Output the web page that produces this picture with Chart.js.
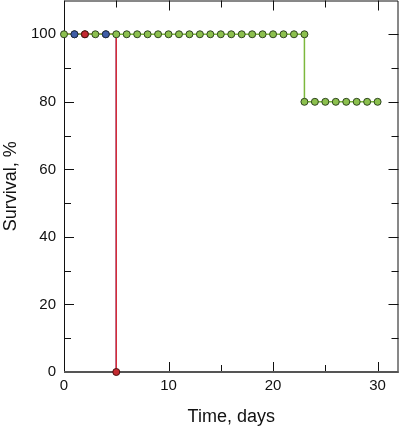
<!DOCTYPE html>
<html>
<head>
<meta charset="utf-8">
<script src="https://cdn.jsdelivr.net/npm/chart.js@4/dist/chart.umd.min.js"></script>
<style>
  html, body { margin: 0; padding: 0; background: #fff; }
  #wrap { width: 400px; height: 430px; overflow: hidden; position: relative; }
  #myChart { position: absolute; left: 0; top: -4px; }
</style>
</head>
<body>
<div id="wrap"><canvas id="myChart" width="403" height="434"></canvas></div>
<script>
// survival data (days, %)
const greenDays = [0,1,2,3,4,5,6,7,8,9,10,11,12,13,14,15,16,17,18,19,20,21,22,23,23,24,25,26,27,28,29,30];
const greenSurvival = [100,100,100,100,100,100,100,100,100,100,100,100,100,100,100,100,100,100,100,100,100,100,100,100,80,80,80,80,80,80,80,80];
const blueDays = [0,5,5];
const blueSurvival = [100,100,0];
const redDays = [0,5,5];
const redSurvival = [100,100,0];
// markers shown on top for the blue / red groups
const blueMarkDays = [1,4];
const blueMarkSurvival = [100,100];
const redMarkDays = [2,5];
const redMarkSurvival = [100,0];

const xTicks = [0,10,20,30];
const xMinor = [5,15,25];
const yTicks = [0,20,40,60,80,100];
const yMinor = [10,30,50,70,90];

const pts = (xs, ys) => xs.map((x, i) => ({x, y: ys[i]}));

const frame = {
  id: 'frame',
  beforeDatasetsDraw(chart) {
    const {ctx, chartArea: a, scales: {x, y}} = chart;
    ctx.save();
    ctx.strokeStyle = '#111';
    ctx.lineWidth = 1;
    ctx.beginPath();
    ctx.moveTo(a.left + 0.5, a.bottom);
    ctx.lineTo(a.left + 0.5, a.top + 0.5);
    ctx.lineTo(a.right - 0.5, a.top + 0.5);
    ctx.lineTo(a.right - 0.5, a.bottom);
    // ticks
    const tick = (v, len) => {
      const px = Math.round(x.getPixelForValue(v)) + 0.5;
      ctx.moveTo(px, a.bottom); ctx.lineTo(px, a.bottom - len);
      ctx.moveTo(px, a.top); ctx.lineTo(px, a.top + len);
    };
    const ytick = (v, len) => {
      const py = Math.round(y.getPixelForValue(v)) + 0.5;
      ctx.moveTo(a.left, py); ctx.lineTo(a.left + len, py);
      ctx.moveTo(a.right, py); ctx.lineTo(a.right - len, py);
    };
    xTicks.forEach(v => tick(v, 10));
    xMinor.forEach(v => tick(v, 7));
    yTicks.forEach(v => ytick(v, 10));
    yMinor.forEach(v => ytick(v, 7));
    ctx.stroke();
    ctx.strokeStyle = '#555';
    ctx.lineWidth = 2;
    ctx.beginPath();
    ctx.moveTo(a.left, a.bottom);
    ctx.lineTo(a.right, a.bottom);
    ctx.stroke();
    ctx.restore();
  }
};

const lineSet = (data, color, order) => ({
  type: 'line', data, borderColor: color, borderWidth: 1.5,
  pointRadius: 0, pointHoverRadius: 0, fill: false, tension: 0, order
});
const markSet = (data, fill, edge, order) => ({
  type: 'scatter', data, showLine: false, pointRadius: 3.5, pointHoverRadius: 0, clip: false,
  pointBackgroundColor: fill, pointBorderColor: edge, pointBorderWidth: 1, order
});

new Chart(document.getElementById('myChart'), {
  type: 'scatter',
  data: {
    datasets: [
      markSet(pts(redMarkDays, redMarkSurvival), '#c42a30', '#4a1010', 1),
      markSet(pts(blueMarkDays, blueMarkSurvival), '#3f5ea6', '#1c2848', 2),
      markSet(pts(greenDays, greenSurvival), '#8cc04e', '#2e4420', 3),
      lineSet(pts(greenDays, greenSurvival), '#7cb83c', 4),
      lineSet(pts(redDays, redSurvival), '#d82a36', 5),
      lineSet(pts(blueDays, blueSurvival), '#4a5fb0', 6)
    ]
  },
  options: {
    responsive: false,
    animation: false,
    layout: { padding: { top: 1, right: 2, left: 0, bottom: 0 } },
    plugins: { legend: { display: false }, tooltip: { enabled: false } },
    scales: {
      x: {
        type: 'linear', min: 0, max: 32,
        grid: { display: false, drawTicks: false, tickLength: 0 }, border: { display: false },
        afterBuildTicks: s => { s.ticks = xTicks.map(v => ({value: v})); },
        afterFit: s => { s.height = 58; s.paddingLeft = 0; s.paddingRight = 0; },
        ticks: { padding: 5, color: '#111', font: { family: 'Liberation Sans', size: 15 } },
        title: { display: true, text: 'Time, days', color: '#111', padding: { top: 4, bottom: 2 },
                 font: { family: 'Liberation Sans', size: 18 } }
      },
      y: {
        type: 'linear', min: 0, max: 110,
        grid: { display: false, drawTicks: false, tickLength: 0 }, border: { display: false },
        afterBuildTicks: s => { s.ticks = yTicks.map(v => ({value: v})); },
        afterFit: s => { s.width = 64; s.paddingTop = 0; s.paddingBottom = 0; },
        ticks: { padding: 8, color: '#111', font: { family: 'Liberation Sans', size: 15 } },
        title: { display: true, text: 'Survival, %', color: '#111', padding: 0,
                 font: { family: 'Liberation Sans', size: 18 } }
      }
    }
  },
  plugins: [frame]
});
</script>
</body>
</html>
